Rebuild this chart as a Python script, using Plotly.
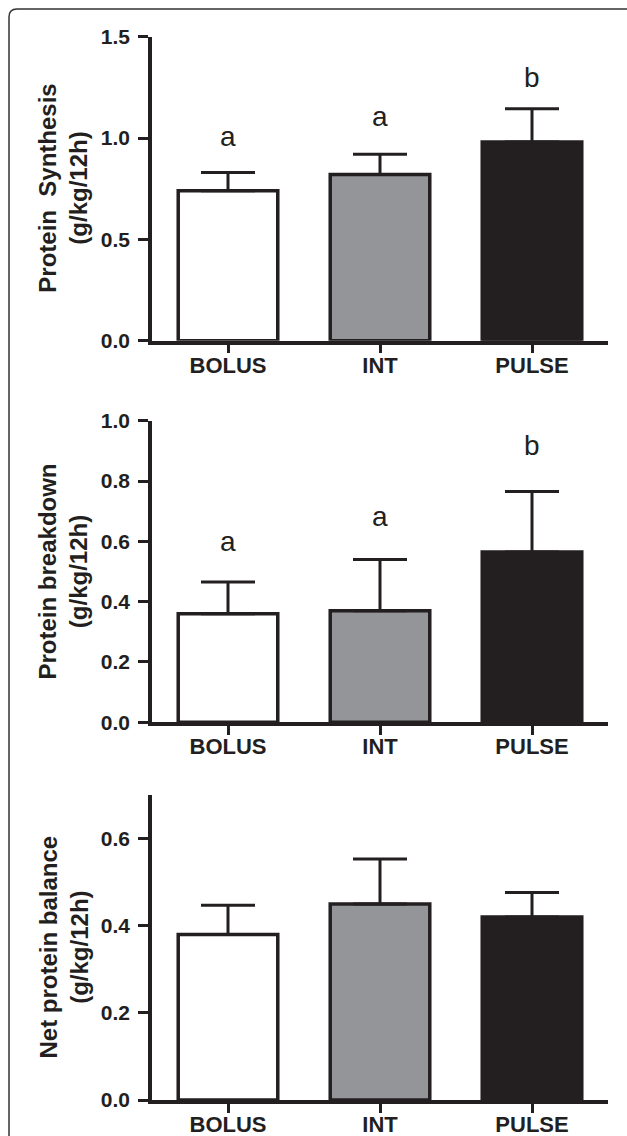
import plotly.graph_objects as go

categories = ["BOLUS", "INT", "PULSE"]

synth_mean = [0.74, 0.82, 0.98]
synth_err = [0.09, 0.10, 0.165]
synth_letters = ["a", "a", "b"]
synth_letter_y = [1.006, 1.105, 1.298]

break_mean = [0.36, 0.37, 0.565]
break_err = [0.105, 0.17, 0.20]
break_letters = ["a", "a", "b"]
break_letter_y = [0.599, 0.684, 0.918]

net_mean = [0.38, 0.45, 0.42]
net_err = [0.067, 0.103, 0.056]

y_titles = ["Protein\u00a0 Synthesis<br>(g/kg/12h)",
            "Protein breakdown<br>(g/kg/12h)",
            "Net protein balance<br>(g/kg/12h)"]
y_ranges = [[0, 1.5], [0, 1.0], [0, 0.7]]
y_ticks = [[0, 0.5, 1.0, 1.5], [0, 0.2, 0.4, 0.6, 0.8, 1.0], [0, 0.2, 0.4, 0.6]]

bar_colors = ["#ffffff", "#939598", "#231f20"]
INK = "#231f20"
FONT = "Liberation Sans, Arial, Helvetica, sans-serif"

W, H = 627, 1136
x_dom = [152 / W, 608 / W]
# panel pixel extents (top, bottom)
panels_px = [(36.7, 340.7), (420.7, 722.3), (795.0, 1100.0)]
y_doms = [[1 - b / H, 1 - t / H] for (t, b) in panels_px]

fig = go.Figure()

series = [(synth_mean, synth_err), (break_mean, break_err), (net_mean, net_err)]
for i, (m, e) in enumerate(series):
    n = "" if i == 0 else str(i + 1)
    fig.add_trace(go.Bar(
        x=categories, y=m,
        xaxis="x" + n, yaxis="y" + n,
        width=0.655,
        marker=dict(color=bar_colors, line=dict(color=INK, width=3.5)),
        error_y=dict(type="data", symmetric=False, array=e, arrayminus=[0] * len(e),
                     color=INK, thickness=3, width=27),
        showlegend=False, hoverinfo="skip",
    ))

annotations = []
for i, (letters, ly) in enumerate([(synth_letters, synth_letter_y), (break_letters, break_letter_y)]):
    n = "" if i == 0 else str(i + 1)
    for c, l, yv in zip(categories, letters, ly):
        annotations.append(dict(x=c, y=yv, xref="x" + n, yref="y" + n, text=l,
                                showarrow=False, xanchor="center", yanchor="middle",
                                font=dict(family=FONT, size=28, color=INK)))

for i, t in enumerate(y_titles):
    yd = y_doms[i]
    annotations.append(dict(x=63 / W, y=(yd[0] + yd[1]) / 2, xref="paper", yref="paper",
                            text=t, showarrow=False, textangle=-90,
                            xanchor="center", yanchor="middle",
                            font=dict(family=FONT, size=24, color=INK, weight="bold")))

layout = dict(
    width=W, height=H,
    margin=dict(l=0, r=0, t=0, b=0, pad=0),
    paper_bgcolor="white", plot_bgcolor="white",
    bargap=0.3,
    annotations=annotations,
    shapes=[dict(type="path", xref="paper", yref="paper",
                 path=f"M {9/W},-0.02 L {9/W},{1-17/H} Q {9/W},{1-9/H} {17/W},{1-9/H} L 1.02,{1-9/H}",
                 line=dict(color="#333333", width=1.5))],
)

for i in range(3):
    n = "" if i == 0 else str(i + 1)
    layout["xaxis" + n] = dict(
        domain=x_dom, anchor="y" + n, range=[-0.5, 2.5], automargin=False,
        showline=True, linecolor=INK, linewidth=3.5,
        ticks="outside", ticklen=9, tickwidth=3, tickcolor=INK,
        ticklabelstandoff=-7,
        showgrid=False, zeroline=False, fixedrange=True,
        tickfont=dict(family=FONT, size=22, color=INK, weight="bold"),
    )
    layout["yaxis" + n] = dict(
        domain=y_doms[i], anchor="x" + n, range=y_ranges[i], automargin=False,
        tickvals=y_ticks[i], tickformat=".1f",
        showline=True, linecolor=INK, linewidth=3.5,
        ticks="outside", ticklen=10, tickwidth=3, tickcolor=INK,
        ticklabelstandoff=4,
        showgrid=False, zeroline=False, fixedrange=True,
        tickfont=dict(family=FONT, size=21, color=INK, weight="bold"),
    )

fig.update_layout(**layout)
post = ("document.body.style.margin='0';document.body.style.overflow='hidden';"
        "var d=document.getElementById('{plot_id}');"
        "d.style.position='fixed';d.style.top='0px';d.style.left='0px';")
fig.write_html("out.html", config={"displayModeBar": False}, post_script=post)
